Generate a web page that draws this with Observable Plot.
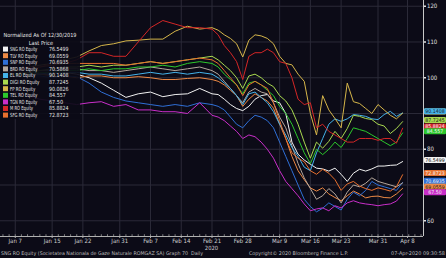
<!DOCTYPE html>
<html><head><meta charset="utf-8">
<script src="https://cdn.jsdelivr.net/npm/d3@7"></script>
<script src="https://cdn.jsdelivr.net/npm/@observablehq/plot@0.6"></script>
<style>
html,body{margin:0;padding:0;background:#0c0b17;overflow:hidden;}
svg{display:block;}
</style></head><body><div id="chart"></div>
<script>
// trading-day index (0 = Jan 7 2020)
const days = [-4,-2,0,2,4,6,8,10,12,14,16,18,20,22,24,26,28,30,32,
  33,34,35,36,37,38,39,40,41,42,43,44,45,46,47,48,49,50,51,52,53,54,55,56,57,58,59,60,61,62,63];
const tickDays = [0,6,11,17,22,27,32,37,43,48,53,59,63.8];
const tickLabels = ["Jan 7","Jan 15","Jan 22","Jan 31","Feb 7","Feb 14","Feb 21","Feb 28","Mar 9","Mar 16","Mar 23","Mar 31","Apr 8"];
const yTicks = [60,80,100,110,120];
const yGrid = [60,70,80,90,100,110,120];

const names = ["SNG RO Equity","TLV RO Equity","SNP RO Equity","BRD RO Equity","EL RO Equity","DIGI RO Equity","FP RO Equity","TEL RO Equity","TGN RO Equity","M RO Equity","SFG RO Equity"];
const colors = ["#f2f2f2","#ee8a45","#2f6fd6","#b5a79c","#45b3ea","#a9d94f","#d6b64a","#2cc82c","#c92ec9","#d42626","#e8702e"];
const lastLabels = ["76.5499","69.0559","70.6935","70.5868","90.1408","87.7245","90.0826","84.557","67.50","85.8824","72.8723"];

const SNG = [100,100.5,101,101.5,101,101,101.5,101,100,98.5,96.5,94.5,95.5,96,94.7,95.3,95.5,97,95.5,
  95.3,94,92.5,91.4,90.8,92,94,95,95.3,93.5,93,90,82,78.6,77,75.8,74.7,74.5,73.9,74.7,73,71,73.3,74.4,73.9,74.5,75.3,75.3,75.5,75.6,76.55];
const TLV = [100,100,100.5,101,101,100.5,100.5,100,100.5,100.5,100,100,100.3,100,99.5,99.5,99.8,100,99.5,
  99,98,96.5,95,92,94,95.5,94.5,93.5,91.5,87,83,78,74,71.5,69.2,68.3,69.2,67.5,66.5,65.6,67,68.3,67.5,66.4,66.8,66.9,66.5,66.4,67.5,69.06];
const SNP = [100,100,100.5,100.5,100.5,100,100.5,100.3,98.5,96,94.5,93.5,93,92.5,92,92.5,92,93,92.5,
  92,91,89,87,86,88,89.5,89,88,86,82,78,74,70,66,64,62.5,63.5,65,64,63,66,68,67,68.5,71,70,69.5,69,68.5,70.69];
const BRD = [100,100.5,101,101.5,102,102,102.5,102.5,102,102,101.5,102,102.5,103,102.5,102,102.5,103,102,
  101,99,97,95,93,96,97,96,95.5,93,89,86,81,76,72,69,66,67,69,67.5,65,68,70,69.5,70.5,72,71,70.5,70,69.5,70.59];
const EL = [100,100.5,101,101,101,101.5,101.5,101.5,101,101,100.5,100.5,101,101.5,101,101.5,101,101.5,101,
  100,98.5,97,95,92.5,95.5,96,94.5,93,90.5,87,84,80.5,78,75,74,79,83,87,88.5,87.8,88.5,89.7,89.5,89.2,88.5,88.3,89.7,90.6,89.2,90.14];
const DIGI = [100,100.5,101,101.5,102,102.5,103,103,103.5,103,103.5,103.5,104,104.5,104,104.5,105,105.5,106,
  105,103.5,102,100,97,100.5,101,100,98.5,97.5,95,93.5,91,87,82,77.5,82,80.3,82.2,85,83,85.8,89.5,89.2,88.6,88.3,87,86.5,84.4,85.8,87.72];
const FP = [100,101,102,103,103.5,104,105,105.8,107.5,109,109.5,110.3,110.5,110.8,110.8,113,114.4,113.6,114,
  113.3,112,111,109.5,105.8,110.5,112,111.7,111,109.5,106,104,103.6,101,99,90,84,95,91,88.6,86,98.5,93.3,92.8,91.4,90,92.5,91,89.5,88.5,90.08];
const TEL = [100,100.5,101,101,101.5,101.5,102,102,102.5,102,102.5,102.5,103,103,103.5,103,104,104.5,104,
  103,101,99.5,98,95.5,98.5,99,98,96.5,95,92,90,87,83,79,76,80,78.5,80,82,80.5,83,86,85.5,85,84,83,82,81,82,84.56];
const TGN = [100,98,96,95,94,93.5,93,92.5,93,93.3,92,92.5,91,91,90.5,90.5,90,93,89.5,
  89,88,86.5,85,83,84,83.5,82,80,77.5,74,71,69,67,64.7,62.8,63.3,63.6,62.8,64.2,63.6,65,65.6,65,64.7,64.5,64.2,64.5,64.7,65.5,67.5];
const M = [100,101,102,103,103,104,104,105,107,107,106,106,110,114,116,115,114,114,113.6,
  112,109,107,104.5,99.5,106,107,107,108,107,104.5,104,100,94,92.5,93,86,87,85,84,83,82,82,83,83,83,82.5,83,83,81.7,85.88];
const SFG = [100,101,102,102.5,103,103.5,104,104,104,104,104,103.5,104,104.5,104,104.5,105,105.5,105,
  104,102,100,98,95,98,99,98,97,93,88,83,79,77.5,76.5,74,73,74.4,73.3,71.5,68.5,70.3,71,69.7,69,68.5,69.2,68.8,68.3,69.5,72.87];

const seriesValues = [SNG,TLV,SNP,BRD,EL,DIGI,FP,TEL,TGN,M,SFG];
const rows = [];
names.forEach((n,i)=>seriesValues[i].forEach((v,j)=>rows.push({name:n, t:days[j], v})));
const labelMap = new Map(tickDays.map((d,i)=>[d,tickLabels[i]]));
const minorDays = d3.range(-2, 67);

const FONT = "'Liberation Sans Narrow','DejaVu Sans Condensed','Liberation Sans',sans-serif";
const XMIN=-2.4, XMAX=66.4, YMIN=55.6, YMAX=121.6;
const GRID = "#2b2a38";

const plot = Plot.plot({
  width:446, height:258, marginLeft:0, marginTop:0, marginRight:23, marginBottom:22,
  style:{background:"#0c0b17", color:"#d8d8d8", fontFamily:FONT, fontSize:"6px"},
  x:{type:"linear", domain:[XMIN,XMAX], axis:null, label:null},
  y:{domain:[YMIN,YMAX], axis:null, label:null},
  color:{domain:names, range:colors},
  marks:[
    Plot.ruleY(yGrid,{stroke:GRID, strokeWidth:1}),
    Plot.ruleX(tickDays,{stroke:GRID, strokeWidth:1}),
    Plot.line(rows,{x:"t", y:"v", z:"name", stroke:"name", strokeWidth:1, clip:true}),
    Plot.ruleY([YMIN],{stroke:"#b0b0b0", strokeWidth:1}),
    Plot.ruleX([XMAX],{stroke:"#c8c8c8", strokeWidth:1}),
    Plot.ruleX(minorDays,{y1:YMIN, y2:YMIN+0.5, stroke:"#9a9a9a", strokeWidth:0.8}),
    Plot.axisX(tickDays,{anchor:"bottom", label:null, tickSize:2, tickPadding:0.5, tickFormat:d=>labelMap.get(d), fontSize:6, fill:"#cfcfcf", stroke:"#b0b0b0"}),
    Plot.axisY(yTicks,{anchor:"right", label:null, tickSize:2, tickPadding:1.5, fontSize:6, fill:"#e0e0e0", stroke:"#e0e0e0", strokeWidth:1.5})
  ]
});
document.getElementById("chart").appendChild(plot);

const svg = d3.select(plot);
const xs = plot.scale("x"), ys = plot.scale("y");

// "2020" year label
svg.append("text").attr("x", xs.apply(32)).attr("y", 250).attr("text-anchor","middle")
  .attr("font-family",FONT).attr("font-size",5.8).attr("fill","#cfcfcf").text("2020");

// legend
const lg = svg.append("g").attr("font-family",FONT).attr("font-size",5.6).attr("fill","#e6e6e6").attr("text-anchor","start");
lg.append("rect").attr("x",0).attr("y",30).attr("width",80).attr("height",89).attr("fill","#0c0b17").attr("fill-opacity",0.93);
lg.append("text").attr("x",40).attr("y",37).attr("text-anchor","middle").attr("textLength",73).attr("lengthAdjust","spacingAndGlyphs").text("Normalized As Of 12/30/2019");
lg.append("text").attr("x",41).attr("y",45).attr("text-anchor","middle").text("Last Price");
names.forEach((n,i)=>{
  const y = 49 + i*6.6;
  lg.append("rect").attr("x",3).attr("y",y-2.4).attr("width",5).attr("height",5).attr("fill",colors[i]);
  lg.append("text").attr("x",10).attr("y",y+2).attr("text-anchor","start")
    .attr("textLength", n.length*2.1).attr("lengthAdjust","spacingAndGlyphs").text(n);
  lg.append("text").attr("x",49).attr("y",y+2).attr("text-anchor","start")
    .attr("textLength", lastLabels[i].length*2.8).attr("lengthAdjust","spacingAndGlyphs").text(lastLabels[i]);
});

// right-side last value labels (drawn so that later ones overlap earlier ones)
const order = [6,4,5,9,7,0,10,3,2,1,8];
const vl = svg.append("g").attr("font-family",FONT).attr("font-size",5.2);
order.forEach(i=>{
  const vals = seriesValues[i];
  const y = ys.apply(vals[vals.length-1]) - 1.2;
  const c = d3.color(colors[i]);
  const lum = (0.299*c.r + 0.587*c.g + 0.114*c.b);
  vl.append("rect").attr("x",424).attr("y",y-3).attr("width",22).attr("height",6).attr("rx",1.2).attr("fill",colors[i]);
  vl.append("text").attr("x",435).attr("y",y+1.9).attr("text-anchor","middle")
    .attr("fill", lum>150 ? "#1a1a1a" : "#f4f4f4").text(lastLabels[i]);
});

// footer
const ft = svg.append("g").attr("font-family",FONT).attr("font-size",5).attr("fill","#bdbdbd");
ft.append("text").attr("x",1).attr("y",255).attr("text-anchor","start").attr("textLength",202).attr("lengthAdjust","spacingAndGlyphs")
  .text("SNG RO Equity (Societatea Nationala de Gaze Naturale ROMGAZ SA) Graph 70  Daily");
ft.append("text").attr("x",249).attr("y",255).attr("text-anchor","start").attr("textLength",99).attr("lengthAdjust","spacingAndGlyphs")
  .text("Copyright© 2020 Bloomberg Finance L.P.");
ft.append("text").attr("x",391).attr("y",255).attr("text-anchor","start").attr("textLength",54).attr("lengthAdjust","spacingAndGlyphs")
  .text("07-Apr-2020 09:30:58");
</script>
</body></html>
